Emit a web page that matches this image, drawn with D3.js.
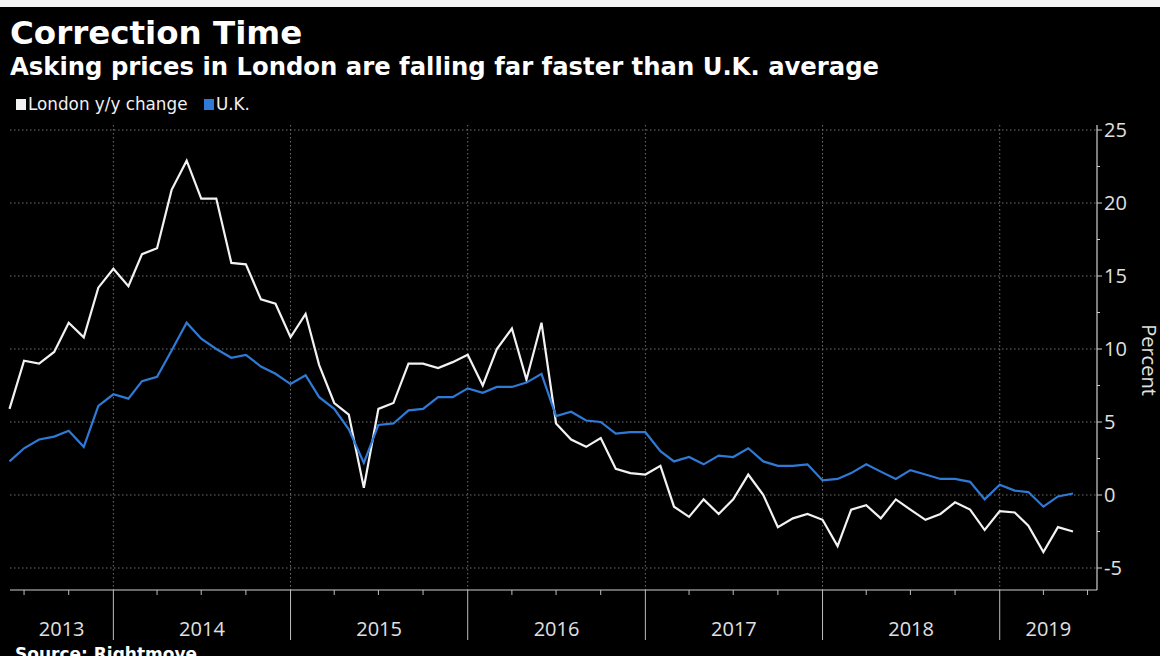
<!DOCTYPE html>
<html>
<head>
<meta charset="utf-8">
<script src="https://cdn.jsdelivr.net/npm/d3@7"></script>
<style>
  html, body { margin: 0; padding: 0; background: #000; }
  svg { display: block; }
</style>
</head>
<body>
<svg id="chart" width="1160" height="656"></svg>
<script>
// Monthly asking-price change, June 2013 to June 2019 (percent, y/y)
const startMonth = [2013, 5]; // June 2013 (0-based month)
const londonValues = [
  5.9, 9.2, 9.0, 9.8, 11.8, 10.8, 14.2, 15.5, 14.3, 16.5, 16.9, 20.9,
  22.9, 20.3, 20.3, 15.9, 15.8, 13.4, 13.1, 10.8, 12.4, 8.9, 6.3, 5.5,
  0.5, 5.9, 6.3, 9.0, 9.0, 8.7, 9.1, 9.6, 7.5, 10.0, 11.4, 7.9,
  11.8, 4.9, 3.8, 3.3, 3.9, 1.8, 1.5, 1.4, 2.0, -0.8, -1.5, -0.3,
  -1.3, -0.3, 1.4, 0.0, -2.2, -1.6, -1.3, -1.7, -3.5, -1.0, -0.7, -1.6,
  -0.3, -1.0, -1.7, -1.3, -0.5, -1.0, -2.4, -1.1, -1.2, -2.1, -3.9, -2.2,
  -2.5
];
const ukValues = [
  2.3, 3.2, 3.8, 4.0, 4.4, 3.3, 6.1, 6.9, 6.6, 7.8, 8.1, 9.9,
  11.8, 10.7, 10.0, 9.4, 9.6, 8.8, 8.3, 7.6, 8.2, 6.7, 5.9, 4.5,
  2.2, 4.8, 4.9, 5.8, 5.9, 6.7, 6.7, 7.3, 7.0, 7.4, 7.4, 7.7,
  8.3, 5.4, 5.7, 5.1, 5.0, 4.2, 4.3, 4.3, 3.0, 2.3, 2.6, 2.1,
  2.7, 2.6, 3.2, 2.3, 2.0, 2.0, 2.1, 1.0, 1.1, 1.5, 2.1, 1.6,
  1.1, 1.7, 1.4, 1.1, 1.1, 0.9, -0.3, 0.7, 0.3, 0.2, -0.8, -0.1,
  0.1
];
const yTickValues = [-5, 0, 5, 10, 15, 20, 25];
const yearLabels = ["2013", "2014", "2015", "2016", "2017", "2018", "2019"];
const seriesNames = ["London y/y change", "U.K."];
const seriesColors = ["#f2f2f2", "#2f7ad6"];

const dates = londonValues.map((_, i) => new Date(startMonth[0], startMonth[1] + i, 1));

const svg = d3.select("#chart");
const W = 1160, H = 656;
const plot = { left: 10, right: 1097, top: 125, bottom: 590 };

svg.append("rect").attr("width", W).attr("height", H).attr("fill", "#000");
// light strip along the top edge
svg.append("rect").attr("x", 0).attr("y", 0).attr("width", W).attr("height", 7).attr("fill", "#f4f4f4");

// Scales
const x = d3.scaleTime()
  .domain([dates[0], dates[dates.length - 1]])
  .range([9.5, 1073]);
const y = d3.scaleLinear().domain([-5, 25]).range([568, 130]);

const axisEnd = x.invert(plot.right);
const axisStart = x.invert(plot.left);

// Horizontal dotted grid
svg.append("g").selectAll("line").data(yTickValues).join("line")
  .attr("x1", plot.left).attr("x2", plot.right)
  .attr("y1", d => y(d)).attr("y2", d => y(d))
  .attr("stroke", "#707070").attr("stroke-width", 1)
  .attr("stroke-dasharray", "1.5,2.5");

// Year boundaries
const yearStarts = d3.timeYear.range(d3.timeYear.ceil(axisStart), axisEnd);
svg.append("g").selectAll("line").data(yearStarts).join("line")
  .attr("x1", d => x(d)).attr("x2", d => x(d))
  .attr("y1", plot.top).attr("y2", plot.bottom)
  .attr("stroke", "#707070").attr("stroke-width", 1)
  .attr("stroke-dasharray", "1.5,2.5");

// X axis: baseline, quarterly ticks, year separators and labels
const xAxisG = svg.append("g");
xAxisG.append("line")
  .attr("x1", plot.left).attr("x2", plot.right)
  .attr("y1", plot.bottom).attr("y2", plot.bottom)
  .attr("stroke", "#cfcfcf").attr("stroke-width", 1.2);
const quarterTicks = d3.timeMonth.range(d3.timeMonth.ceil(axisStart), axisEnd)
  .filter(d => d.getMonth() % 3 === 0);
xAxisG.selectAll("line.q").data(quarterTicks).join("line").attr("class", "q")
  .attr("x1", d => x(d)).attr("x2", d => x(d))
  .attr("y1", plot.bottom).attr("y2", d => d.getMonth() === 0 ? 640 : plot.bottom + 5)
  .attr("stroke", "#bdbdbd").attr("stroke-width", 1);
const yearBounds = yearLabels.map((label) => {
  const y0 = new Date(+label, 0, 1), y1 = new Date(+label + 1, 0, 1);
  const a = Math.max(plot.left, x(y0)), b = Math.min(plot.right, x(y1));
  return { label, cx: (a + b) / 2 };
});
xAxisG.selectAll("text").data(yearBounds).join("text")
  .attr("x", d => d.cx).attr("y", 636)
  .attr("text-anchor", "middle")
  .attr("font-family", "'Open Sans', sans-serif").attr("font-size", 20)
  .attr("fill", "#e0e0e0")
  .text(d => d.label);

// Right-hand Y axis
const yAxisG = svg.append("g");
yAxisG.append("line")
  .attr("x1", plot.right).attr("x2", plot.right)
  .attr("y1", plot.top).attr("y2", plot.bottom)
  .attr("stroke", "#cfcfcf").attr("stroke-width", 1.2);
const minorY = d3.range(-5, 25.1, 2.5);
yAxisG.selectAll("line.t").data(minorY).join("line").attr("class", "t")
  .attr("x1", plot.right).attr("x2", d => d % 5 === 0 ? plot.right + 5 : plot.right + 3)
  .attr("y1", d => y(d)).attr("y2", d => y(d))
  .attr("stroke", "#cfcfcf").attr("stroke-width", 1);
yAxisG.selectAll("text").data(yTickValues).join("text")
  .attr("x", plot.right + 7).attr("y", d => y(d) + 7)
  .attr("font-family", "'Open Sans', sans-serif").attr("font-size", 20)
  .attr("fill", "#e0e0e0")
  .text(d => d < 0 ? "-" + Math.abs(d) : d);
svg.append("text")
  .attr("transform", "translate(1142,360) rotate(90)")
  .attr("text-anchor", "middle")
  .attr("font-family", "'Open Sans', sans-serif").attr("font-size", 20)
  .attr("fill", "#e0e0e0")
  .text("Percent");

// Lines
const line = d3.line().x((d, i) => x(dates[i])).y(d => y(d));
[londonValues, ukValues].forEach((vals, k) => {
  svg.append("path").datum(vals)
    .attr("fill", "none")
    .attr("stroke", seriesColors[k])
    .attr("stroke-width", 2.2)
    .attr("stroke-linejoin", "miter")
    .attr("d", line);
});

// Title, subtitle
svg.append("text").attr("x", 10).attr("y", 44)
  .attr("font-family", "'DejaVu Sans', sans-serif").attr("font-weight", "bold")
  .attr("font-size", 32.5).attr("fill", "#fff")
  .text("Correction Time");
svg.append("text").attr("x", 10).attr("y", 75)
  .attr("font-family", "'DejaVu Sans', sans-serif").attr("font-weight", "bold")
  .attr("font-size", 24.3).attr("fill", "#fff")
  .text("Asking prices in London are falling far faster than U.K. average");

// Legend
const legendX = [16, 204];
seriesNames.forEach((name, k) => {
  svg.append("rect").attr("x", legendX[k]).attr("y", 99)
    .attr("width", 10).attr("height", 11).attr("fill", seriesColors[k]);
  svg.append("text").attr("x", legendX[k] + 12).attr("y", 110)
    .attr("font-family", "'DejaVu Sans', sans-serif").attr("font-size", 16.8)
    .attr("fill", "#f0f0f0")
    .text(name);
});

// Source
svg.append("text").attr("x", 15).attr("y", 660)
  .attr("font-family", "'DejaVu Sans', sans-serif").attr("font-weight", "bold")
  .attr("font-size", 17).attr("fill", "#fff")
  .text("Source: Rightmove");
</script>
</body>
</html>
